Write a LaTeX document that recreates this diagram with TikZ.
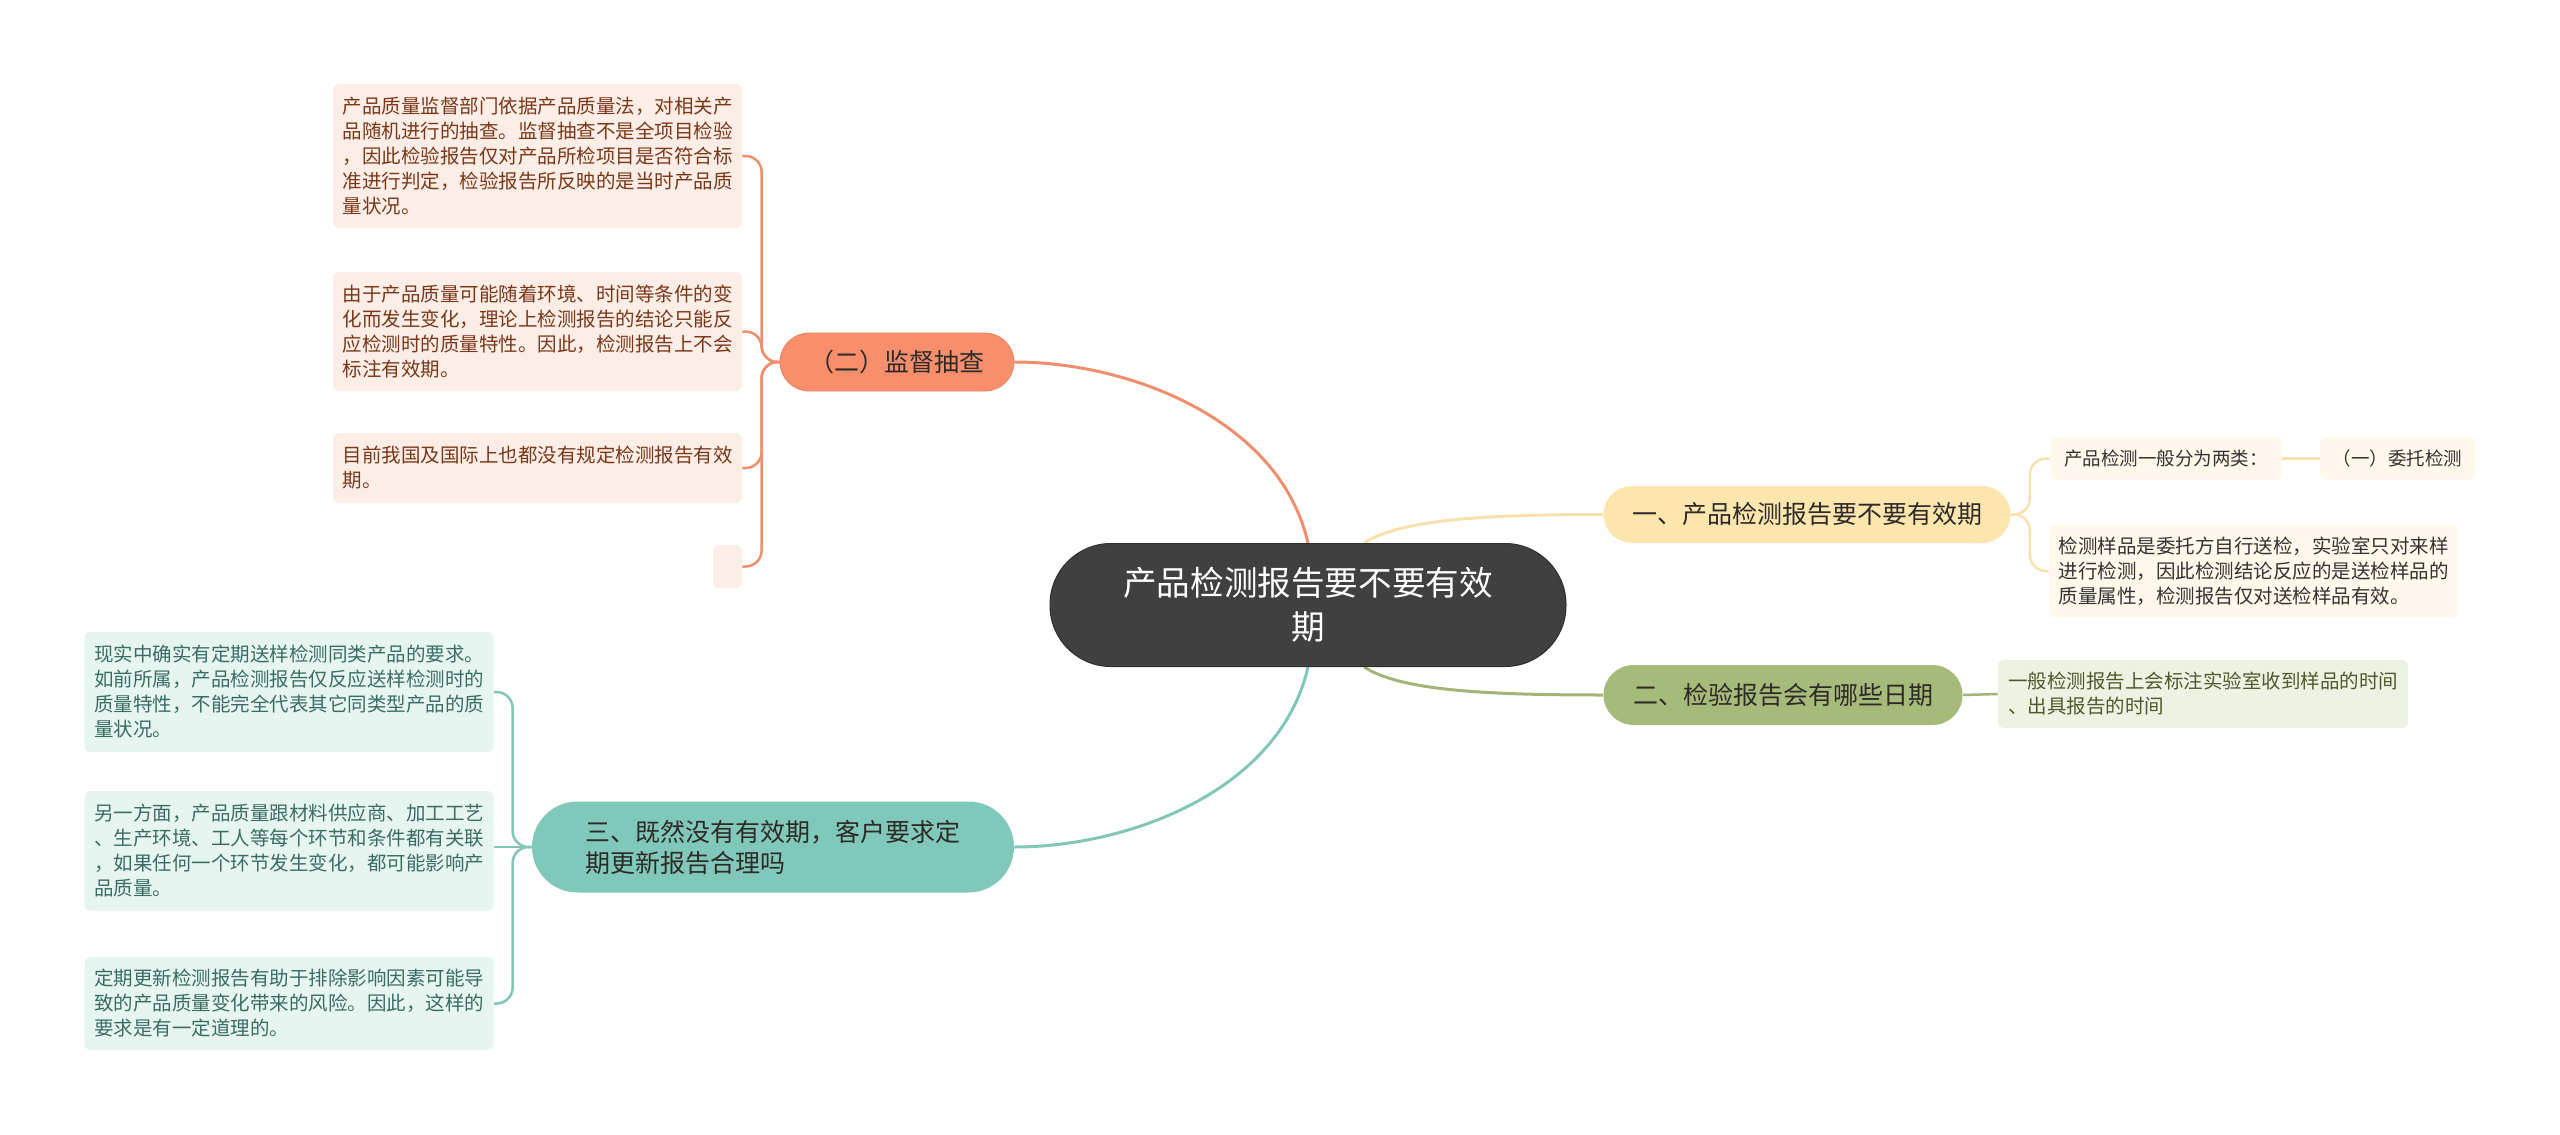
\documentclass[tikz,border=0pt]{standalone}
\usepackage{fontspec}
\newfontfamily\cjk{Noto Sans CJK SC}
\usetikzlibrary{backgrounds}
\definecolor{cdark}{HTML}{404040}
\definecolor{cdarkb}{HTML}{2E2E2E}
\definecolor{otxt}{HTML}{2E2A28}
\definecolor{ofill}{HTML}{F98E6C}
\definecolor{oborder}{HTML}{EE8262}
\definecolor{oline}{HTML}{EF8F6D}
\definecolor{oleaf}{HTML}{FDEDE7}
\definecolor{oleaftxt}{HTML}{7A3819}
\definecolor{yfill}{HTML}{FDE6AE}
\definecolor{yline}{HTML}{F9E1AE}
\definecolor{yleaf}{HTML}{FFF8EB}
\definecolor{yleaftxt}{HTML}{333333}
\definecolor{gfill}{HTML}{A6BB7A}
\definecolor{gline}{HTML}{A0B577}
\definecolor{gleaf}{HTML}{EEF2E3}
\definecolor{gleaftxt}{HTML}{4B5B2C}
\definecolor{tfill}{HTML}{80C8BA}
\definecolor{tline}{HTML}{82C6B7}
\definecolor{tleaf}{HTML}{E7F5F1}
\definecolor{tleaftxt}{HTML}{3A6D62}
\begin{document}
\begin{tikzpicture}[x=0.5pt,y=-0.5pt,
  centerbox/.style={fill=cdark,draw=cdarkb,line width=0.5pt,text=white,rounded corners=30.5pt,
    minimum width=258pt,minimum height=61.5pt,inner sep=0pt,align=center,
    font=\cjk\fontsize{16.8pt}{22pt}\selectfont},
  branchbox/.style={inner sep=0pt,align=center,text=otxt,
    font=\cjk\fontsize{12.5pt}{15.5pt}\selectfont},
  leafbox/.style={rounded corners=3pt,inner sep=0pt,align=left,text width=195pt,
    minimum width=204.5pt,font=\cjk\fontsize{9.75pt}{12.5pt}\selectfont},
  smallleaf/.style={rounded corners=3pt,inner sep=0pt,align=center,minimum height=21.5pt,
    font=\cjk\fontsize{9.25pt}{12pt}\selectfont},
  mainline/.style={line width=1.5pt},
  subline/.style={line width=1.25pt,rounded corners=8pt}
]
\useasboundingbox (0,0) rectangle (2560,1135);

% central
\node[centerbox] (C) at (1308,605) {产品检测报告要不要有效\\期};

% branches
\node[branchbox,fill=ofill,draw=oborder,line width=0.4pt,rounded corners=14.5pt,
  minimum width=117pt,minimum height=29pt] (O) at (897,362) {（二）监督抽查};
\node[branchbox,fill=yfill,rounded corners=14.25pt,
  minimum width=203.5pt,minimum height=28.5pt] (Y) at (1807,514.5) {一、产品检测报告要不要有效期};
\node[branchbox,fill=gfill,rounded corners=15pt,
  minimum width=179.5pt,minimum height=30pt] (G) at (1783,695) {二、检验报告会有哪些日期};
\node[branchbox,fill=tfill,rounded corners=22.75pt,align=left,text width=187.5pt,
  minimum width=241pt,minimum height=45.5pt] (T) at (773,847) {三、既然没有有效期，客户要求定\\期更新报告合理吗};

% orange leaves
\node[leafbox,fill=oleaf,text=oleaftxt,minimum height=72pt] (O1) at (537.5,156)
 {产品质量监督部门依据产品质量法，对相关产\\品随机进行的抽查。监督抽查不是全项目检验\\，因此检验报告仅对产品所检项目是否符合标\\准进行判定，检验报告所反映的是当时产品质\\量状况。};
\node[leafbox,fill=oleaf,text=oleaftxt,minimum height=59.5pt] (O2) at (537.5,331.5)
 {由于产品质量可能随着环境、时间等条件的变\\化而发生变化，理论上检测报告的结论只能反\\应检测时的质量特性。因此，检测报告上不会\\标注有效期。};
\node[leafbox,fill=oleaf,text=oleaftxt,minimum height=35pt] (O3) at (537.5,468)
 {目前我国及国际上也都没有规定检测报告有效\\期。};
\node[fill=oleaf,rounded corners=3pt,inner sep=0pt,minimum width=14.5pt,minimum height=21.5pt] (O4) at (727.5,566.5) {};

% teal leaves
\node[leafbox,fill=tleaf,text=tleaftxt,minimum height=60pt] (T1) at (289,692)
 {现实中确实有定期送样检测同类产品的要求。\\如前所属，产品检测报告仅反应送样检测时的\\质量特性，不能完全代表其它同类型产品的质\\量状况。};
\node[leafbox,fill=tleaf,text=tleaftxt,minimum height=60pt] (T2) at (289,851)
 {另一方面，产品质量跟材料供应商、加工工艺\\、生产环境、工人等每个环节和条件都有关联\\，如果任何一个环节发生变化，都可能影响产\\品质量。};
\node[leafbox,fill=tleaf,text=tleaftxt,minimum height=46.5pt] (T3) at (289,1003.5)
 {定期更新检测报告有助于排除影响因素可能导\\致的产品质量变化带来的风险。因此，这样的\\要求是有一定道理的。};

% yellow leaves
\node[smallleaf,fill=yleaf,text=yleaftxt,minimum width=116pt] (Y1) at (2166,458.5) {产品检测一般分为两类：};
\node[smallleaf,fill=yleaf,text=yleaftxt,minimum width=77.5pt] (Y1a) at (2397.5,458.5) {（一）委托检测};
\node[leafbox,fill=yleaf,text=yleaftxt,minimum height=46pt] (Y2) at (2253.5,571)
 {检测样品是委托方自行送检，实验室只对来样\\进行检测，因此检测结论反应的是送检样品的\\质量属性，检测报告仅对送检样品有效。};

% green leaf
\node[leafbox,fill=gleaf,text=gleaftxt,minimum height=34pt,minimum width=205pt] (G1) at (2203,694)
 {一般检测报告上会标注实验室收到样品的时间\\、出具报告的时间};

\begin{scope}[on background layer]
% main connectors
\draw[mainline,draw=oline] (C.north) .. controls (1280,420) and (1130,362) .. (O.east);
\draw[mainline,draw=tline] (C.south) .. controls (1280,790) and (1130,847) .. (T.east);
\draw[mainline,draw=yline] ([xshift=28pt]C.north) .. controls (1400,520) and (1480,514.5) .. (Y.west);
\draw[mainline,draw=gline] ([xshift=28pt]C.south) .. controls (1400,690) and (1480,695) .. (G.west);
% orange sub
\draw[subline,draw=oline] (O.west) -- ++(-18,0) |- (O1.east);
\draw[subline,draw=oline] (O.west) -- ++(-18,0) |- (O2.east);
\draw[subline,draw=oline] (O.west) -- ++(-18,0) |- (O3.east);
\draw[subline,draw=oline] (O.west) -- ++(-18,0) |- (O4.east);
% teal sub
\draw[subline,draw=tline] (T.west) -- ++(-19,0) |- (T1.east);
\draw[subline,draw=tline] (T.west) -- (T2.east |- T.west);
\draw[subline,draw=tline] (T.west) -- ++(-19,0) |- (T3.east);
% yellow sub
\draw[subline,draw=yline] (Y.east) -- ++(19,0) |- (Y1.west);
\draw[subline,draw=yline] (Y.east) -- ++(19,0) |- (Y2.west);
\draw[subline,draw=yline] (Y1.east) -- (Y1a.west);
% green sub
\draw[subline,draw=gline] (G.east) -- (G1.west);
\end{scope}
\end{tikzpicture}
\end{document}
